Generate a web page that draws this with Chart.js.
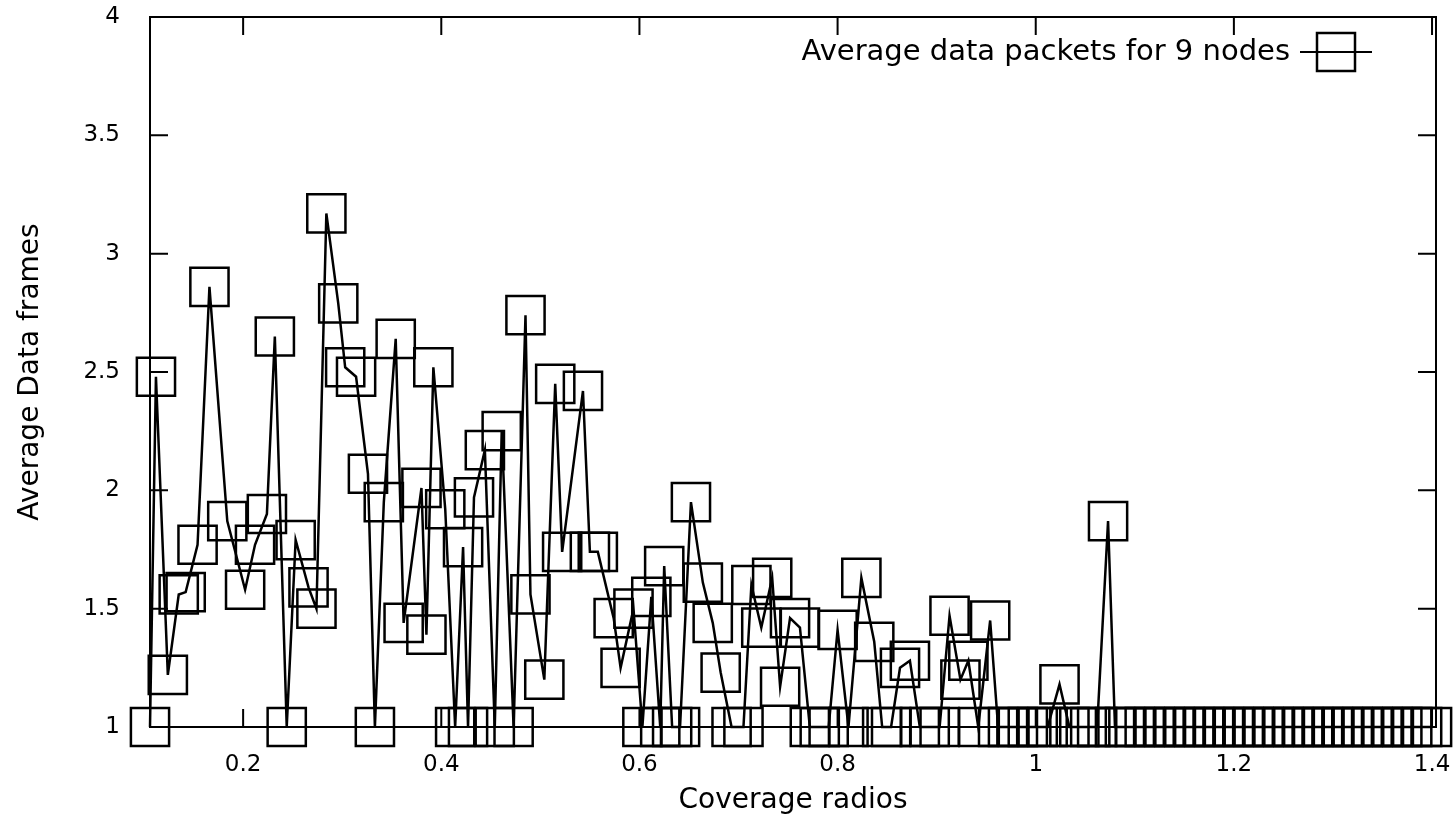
<!DOCTYPE html>
<html>
<head>
<meta charset="utf-8">
<title>Average data packets for 9 nodes</title>
<script src="https://cdn.jsdelivr.net/npm/chart.js@4.4.1/dist/chart.umd.min.js"></script>
<style>
  body { margin: 0; background: #fff; }
  canvas { display: block; }
</style>
</head>
<body>
<canvas id="chart" width="1455" height="819"></canvas>
<script>
// Coverage radius (x) and average data frames (y)
const coverage = [
  0.106, 0.112, 0.124, 0.135, 0.142, 0.154, 0.166, 0.184,
  0.202, 0.212, 0.224, 0.232, 0.244, 0.253, 0.266,
  0.274, 0.284, 0.296, 0.303, 0.314, 0.326, 0.333,
  0.342, 0.354, 0.362, 0.380, 0.385, 0.392, 0.404,
  0.414, 0.422, 0.427, 0.433, 0.444, 0.454, 0.461, 0.473, 0.485, 0.490,
  0.504, 0.515, 0.522, 0.543, 0.550, 0.558, 0.574, 0.581,
  0.594, 0.603, 0.612, 0.621, 0.625, 0.633, 0.641, 0.652, 0.664, 0.674,
  0.682, 0.693, 0.705, 0.713, 0.723, 0.734, 0.742, 0.752, 0.762, 0.772,
  0.782, 0.791, 0.800, 0.811, 0.824, 0.837, 0.845, 0.854, 0.863, 0.873,
  0.883, 0.893, 0.903, 0.913, 0.924, 0.932, 0.942, 0.954, 0.962, 0.972,
  0.982, 0.992, 1.002, 1.012, 1.024, 1.034, 1.044, 1.055, 1.062, 1.073,
  1.080, 1.090, 1.100, 1.110, 1.120, 1.130, 1.140, 1.150, 1.160, 1.170,
  1.180, 1.190, 1.200, 1.210, 1.220, 1.230, 1.240, 1.250, 1.260, 1.270,
  1.280, 1.290, 1.300, 1.310, 1.320, 1.330, 1.340, 1.350, 1.360, 1.370,
  1.380, 1.390, 1.400
];
const frames = [
  1.00, 2.48, 1.22, 1.56, 1.57, 1.77, 2.86, 1.87,
  1.58, 1.77, 1.90, 2.65, 1.00, 1.79, 1.59,
  1.50, 3.17, 2.79, 2.52, 2.48, 2.07, 1.00,
  1.95, 2.64, 1.44, 2.01, 1.39, 2.52, 1.92,
  1.00, 1.76, 1.00, 1.97, 2.17, 1.00, 2.25, 1.00, 2.74, 1.56,
  1.20, 2.45, 1.74, 2.42, 1.74, 1.74, 1.46, 1.25,
  1.50, 1.00, 1.55, 1.00, 1.68, 1.00, 1.00, 1.95, 1.61, 1.44,
  1.23, 1.00, 1.00, 1.60, 1.42, 1.63, 1.17, 1.46, 1.42, 1.00,
  1.00, 1.00, 1.41, 1.00, 1.63, 1.36, 1.00, 1.00, 1.25, 1.28,
  1.00, 1.00, 1.00, 1.47, 1.20, 1.28, 1.00, 1.45, 1.00, 1.00,
  1.00, 1.00, 1.00, 1.00, 1.18, 1.00, 1.00, 1.00, 1.00, 1.87,
  1.00, 1.00, 1.00, 1.00, 1.00, 1.00, 1.00, 1.00, 1.00, 1.00,
  1.00, 1.00, 1.00, 1.00, 1.00, 1.00, 1.00, 1.00, 1.00, 1.00,
  1.00, 1.00, 1.00, 1.00, 1.00, 1.00, 1.00, 1.00, 1.00, 1.00,
  1.00, 1.00, 1.00
];
const xTicks = [0.2, 0.4, 0.6, 0.8, 1, 1.2, 1.4];
const yTicks = [1, 1.5, 2, 2.5, 3, 3.5, 4];
const seriesLabel = "Average data packets for 9 nodes";

const FONT = "'DejaVu Sans', sans-serif";

// gnuplot style frame: border plus inward ticks on all four sides
const frameTicks = {
  id: "frameTicks",
  afterDraw(chart) {
    const { ctx, chartArea: a } = chart;
    const xs = chart.scales.x;
    const ys = chart.scales.y;
    const len = 18;
    ctx.save();
    ctx.strokeStyle = "#000";
    ctx.lineWidth = 2;
    ctx.strokeRect(a.left, a.top, a.right - a.left, a.bottom - a.top);
    ctx.beginPath();
    xTicks.forEach((v) => {
      const px = xs.getPixelForValue(v);
      ctx.moveTo(px, a.bottom);
      ctx.lineTo(px, a.bottom - len);
      ctx.moveTo(px, a.top);
      ctx.lineTo(px, a.top + len);
    });
    yTicks.forEach((v) => {
      const py = ys.getPixelForValue(v);
      ctx.moveTo(a.left, py);
      ctx.lineTo(a.left + len, py);
      ctx.moveTo(a.right, py);
      ctx.lineTo(a.right - len, py);
    });
    ctx.stroke();

    // key in the top right corner
    const ky = 52;
    ctx.fillStyle = "#000";
    ctx.font = "29px " + FONT;
    ctx.textAlign = "right";
    ctx.textBaseline = "middle";
    ctx.fillText(seriesLabel, 1290, ky);
    ctx.beginPath();
    ctx.moveTo(1300, ky);
    ctx.lineTo(1372, ky);
    ctx.stroke();
    ctx.lineWidth = 2.5;
    ctx.strokeRect(1336 - 19, ky - 19, 38, 38);
    ctx.restore();
  },
};

const ctx = document.getElementById("chart").getContext("2d");
new Chart(ctx, {
  type: "scatter",
  data: {
    datasets: [
      {
        label: seriesLabel,
        data: coverage.map((x, i) => ({ x: x, y: frames[i] })),
        showLine: true,
        borderColor: "#000",
        borderWidth: 2.5,
        pointStyle: "rect",
        pointRadius: 27,
        pointBorderWidth: 2.5,
        pointBorderColor: "#000",
        pointBackgroundColor: "rgba(0,0,0,0)",
        clip: false,
      },
    ],
  },
  options: {
    responsive: false,
    animation: false,
    layout: {
      autoPadding: false,
      padding: { top: 17, right: 19, left: 0, bottom: 0 },
    },
    plugins: {
      legend: { display: false },
      tooltip: { enabled: false },
    },
    scales: {
      x: {
        type: "linear",
        min: 0.106,
        max: 1.404,
        afterBuildTicks: (scale) => {
          scale.ticks = xTicks.map((v) => ({ value: v }));
        },
        afterFit: (scale) => {
          scale.height = 92;
          scale.paddingLeft = 0;
          scale.paddingRight = 0;
        },
        grid: { display: false },
        border: { display: false },
        ticks: {
          color: "#000",
          padding: 16,
          maxRotation: 0,
          font: { family: FONT, size: 23 },
          callback: (v) => String(v),
        },
        title: {
          display: true,
          text: "Coverage radios",
          color: "#000",
          font: { family: FONT, size: 28 },
          padding: { top: 0, bottom: 1 },
        },
      },
      y: {
        type: "linear",
        min: 1,
        max: 4,
        afterBuildTicks: (scale) => {
          scale.ticks = yTicks.map((v) => ({ value: v }));
        },
        afterFit: (scale) => {
          scale.width = 150;
          scale.paddingTop = 0;
          scale.paddingBottom = 0;
        },
        grid: { display: false },
        border: { display: false },
        ticks: {
          color: "#000",
          padding: 22,
          font: { family: FONT, size: 23 },
          callback: (v) => String(v),
        },
        title: {
          display: true,
          text: "Average Data frames",
          color: "#000",
          font: { family: FONT, size: 28 },
          padding: { top: 14, bottom: 0 },
        },
      },
    },
  },
  plugins: [frameTicks],
});
</script>
</body>
</html>
